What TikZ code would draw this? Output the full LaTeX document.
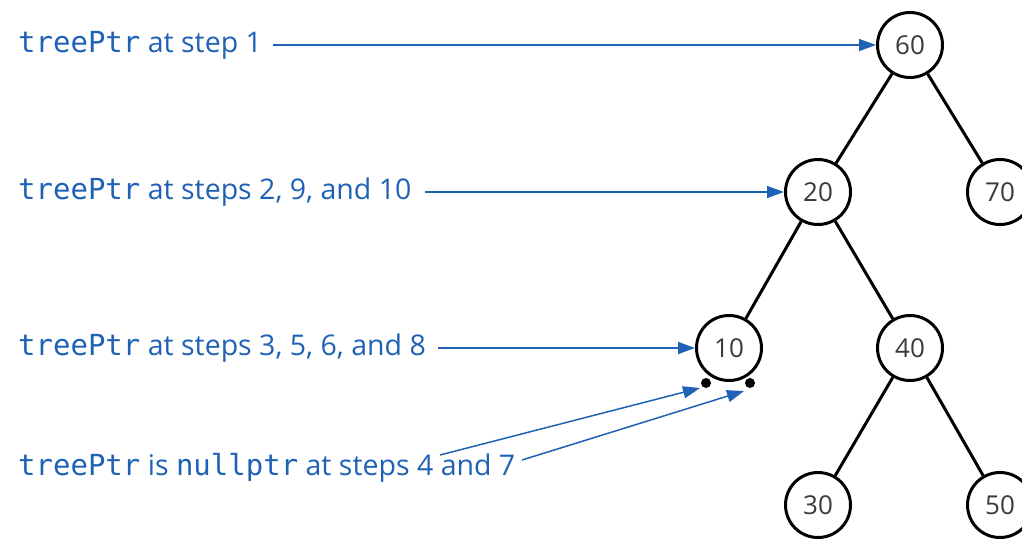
\documentclass[tikz,border=0pt]{standalone}
\usepackage{fontspec}
\setmainfont{Open Sans}
\setmonofont{DejaVu Sans Mono}
\usetikzlibrary{arrows.meta}
\definecolor{ptrblue}{HTML}{1F62B5}
\definecolor{numgray}{HTML}{3A3A3A}
\newcommand{\code}[1]{{\ttfamily\fontsize{29}{30}\selectfont #1}}
\begin{document}
\begin{tikzpicture}[x=1pt,y=-1pt,
  treenode/.style={circle,draw=black,line width=3pt,minimum size=65pt,inner sep=0pt,
    font=\fontsize{26}{30}\selectfont,text=numgray},
  edge/.style={line width=3pt,black},
  lbl/.style={anchor=west,inner sep=0pt,text=ptrblue,font=\fontsize{28.5}{32}\selectfont},
  ptr/.style={ptrblue,line width=1.5pt,-{Triangle[length=17pt,width=12pt]}},
  nulldot/.style={circle,fill=black,minimum size=10pt,inner sep=0pt}]
\useasboundingbox (0,0) rectangle (1022,539);
% tree
\node[treenode] (n60) at (910,45) {60};
\node[treenode] (n20) at (818,192) {20};
\node[treenode] (n70) at (1000,192) {70};
\node[treenode] (n10) at (729,348) {10};
\node[treenode] (n40) at (910,348) {40};
\node[treenode] (n30) at (818,505) {30};
\node[treenode] (n50) at (1000,505) {50};
\draw[edge] (n60) -- (n20);
\draw[edge] (n60) -- (n70);
\draw[edge] (n20) -- (n10);
\draw[edge] (n20) -- (n40);
\draw[edge] (n40) -- (n30);
\draw[edge] (n40) -- (n50);
% null children of 10
\node[nulldot] (nl) at (706,383) {};
\node[nulldot] (nr) at (750,383) {};
% pointer labels
\node[lbl] (l1) at (18,45) {\code{treePtr} at step 1};
\node[lbl] (l2) at (18,192) {\code{treePtr} at steps 2, 9, and 10};
\node[lbl] (l3) at (18,348) {\code{treePtr} at steps 3, 5, 6, and 8};
\node[lbl] (l4) at (18,468) {\code{treePtr} is \code{nullptr} at steps 4 and 7};
\coordinate (s4a) at (440,455);
\coordinate (s4b) at (522,460);
\draw[ptr] ([xshift=11pt]l1.east) -- (n60.west);
\draw[ptr] ([xshift=13pt]l2.east) -- (n20.west);
\draw[ptr] ([xshift=12pt]l3.east) -- (n10.west);
\draw[ptr] (s4a) -- (700,388);
\draw[ptr] (s4b) -- (744,391);
\end{tikzpicture}
\end{document}
